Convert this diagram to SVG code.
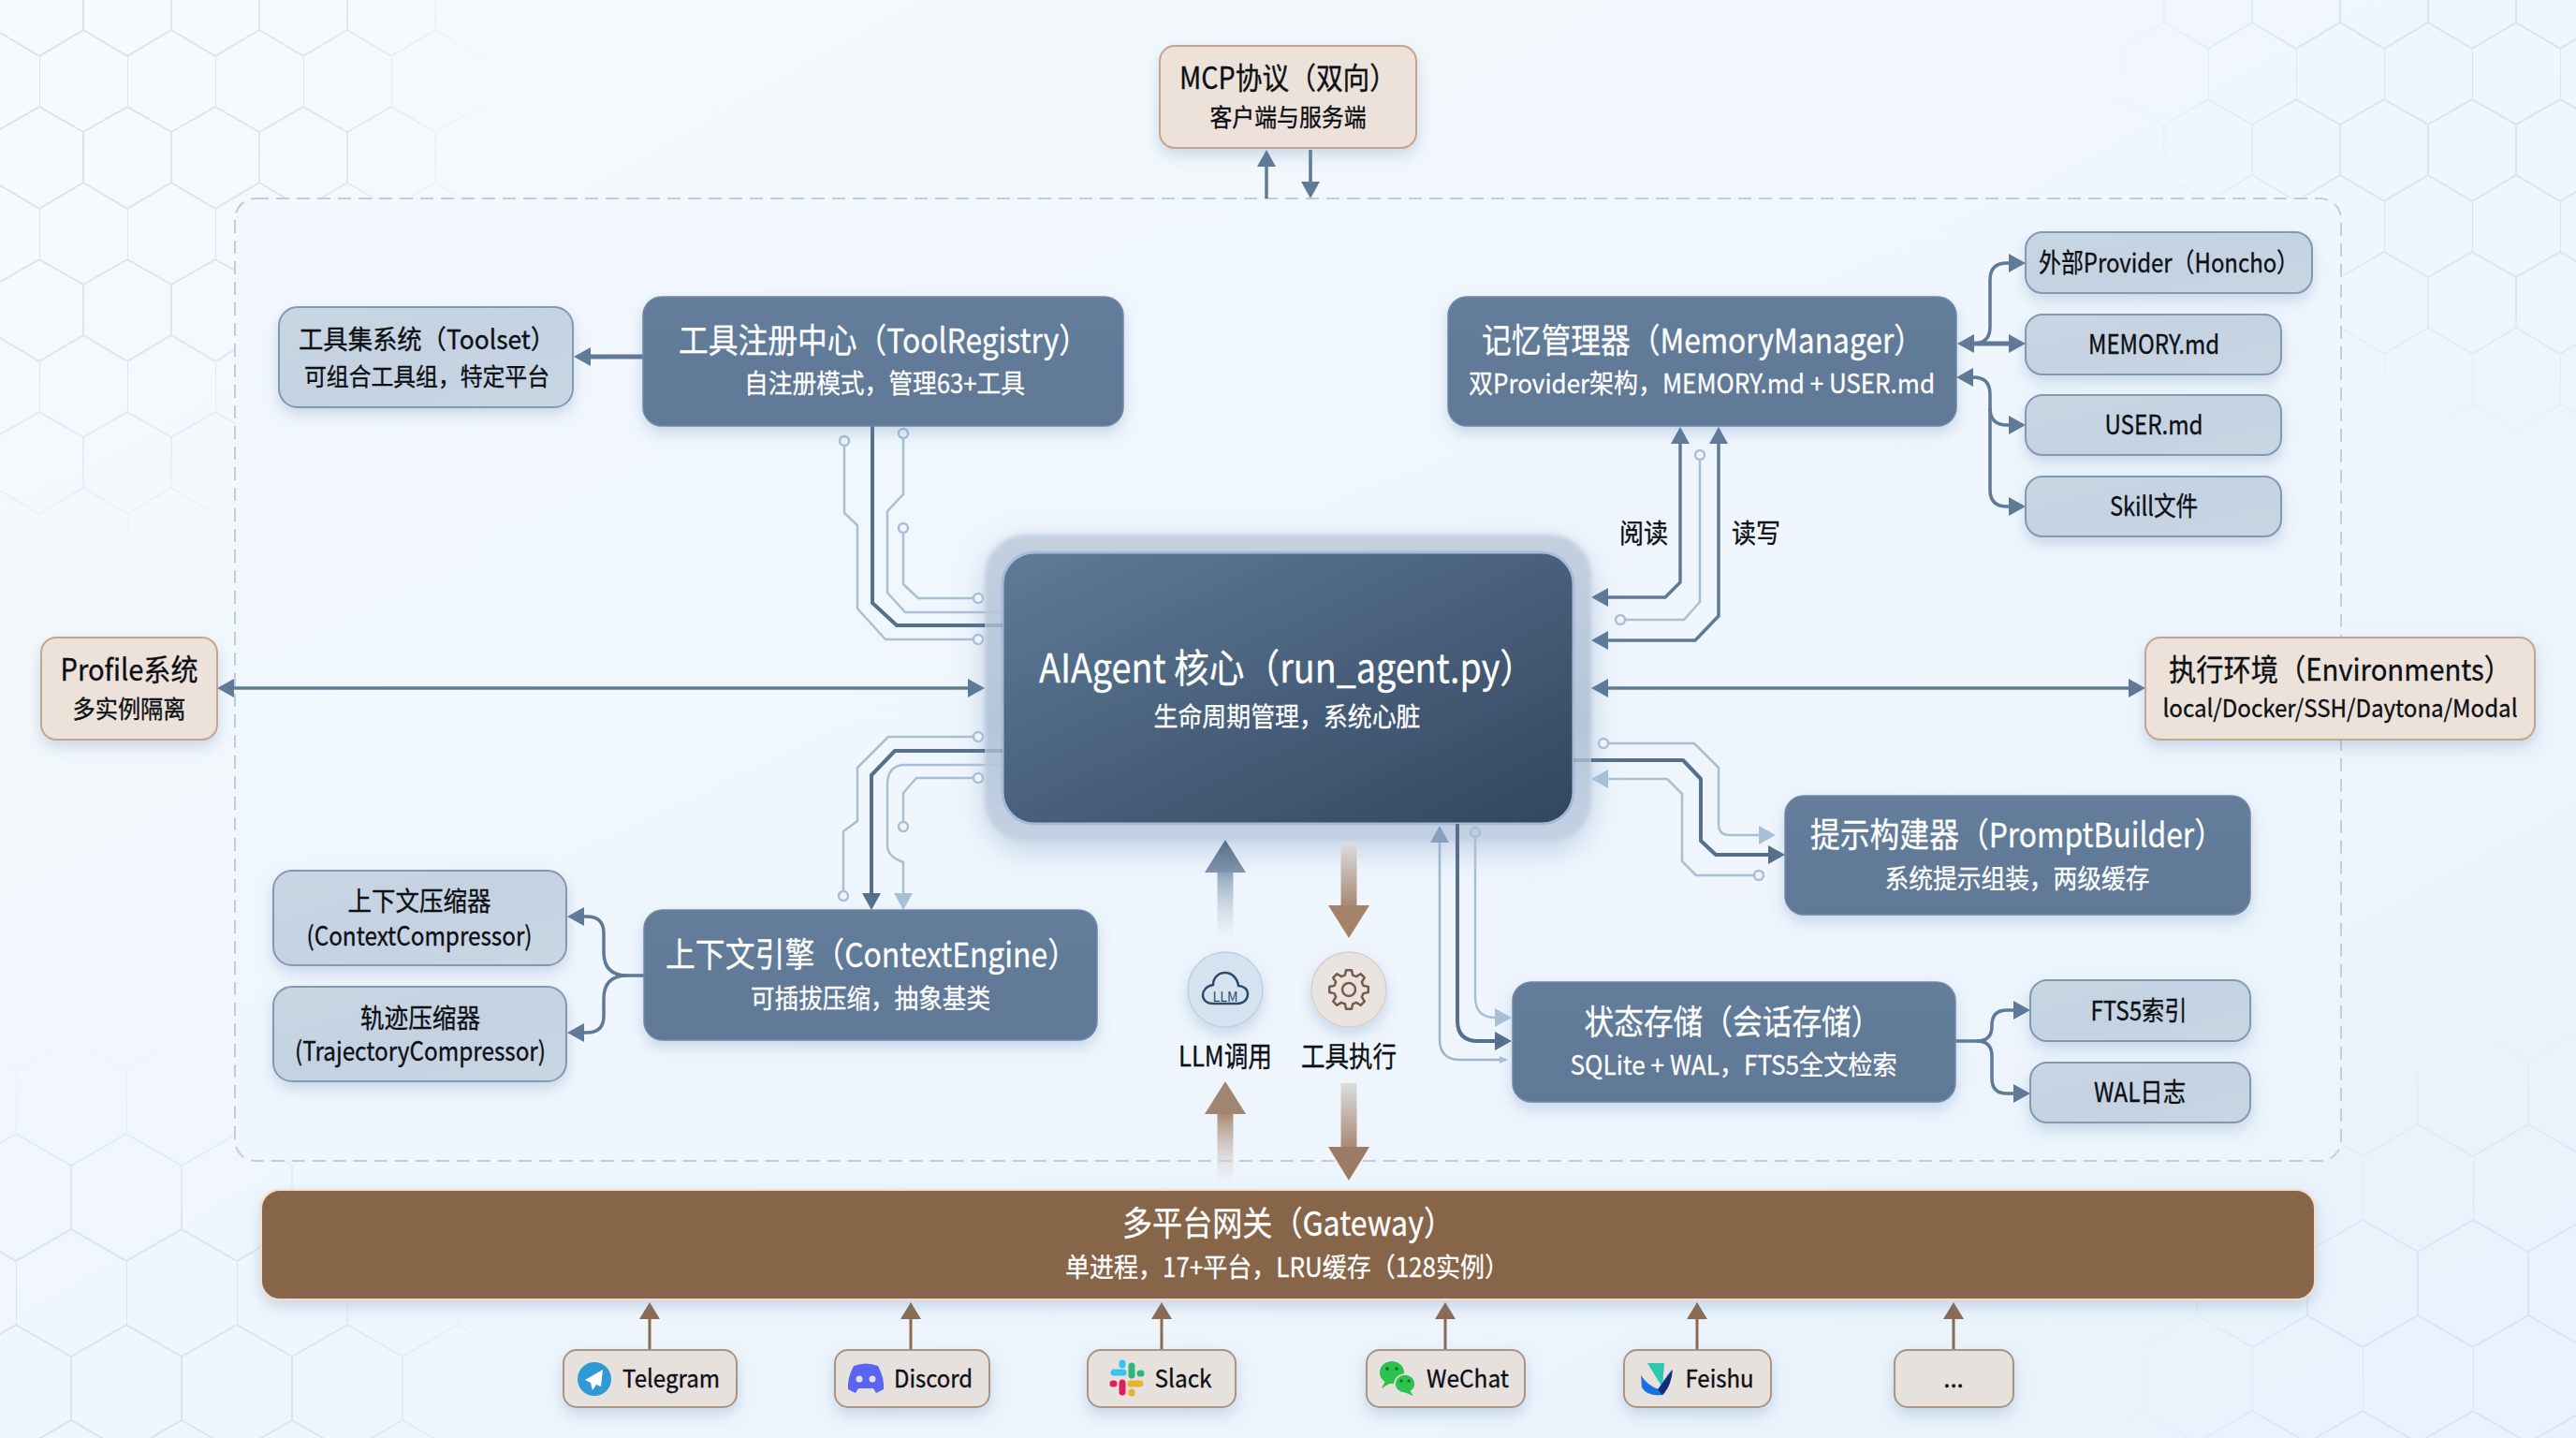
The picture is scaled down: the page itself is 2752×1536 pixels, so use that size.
<svg xmlns="http://www.w3.org/2000/svg" width="2752" height="1536" viewBox="0 0 2752 1536">
<style>
text{font-family:"Noto Sans CJK SC","Noto Sans",sans-serif;text-anchor:middle;dominant-baseline:central}
.w{fill:#fff;stroke:#fff;stroke-width:.3}.k{fill:#0c0f14;stroke:#0c0f14;stroke-width:.35}
.f26{font-size:26px;transform:translateY(-3px)}.f28{font-size:28px;transform:translateY(-2px)}.f30{font-size:30px;transform:translateY(-1px)}.f32{font-size:32px;transform:translateY(-3px)}.f36{font-size:36px;transform:translateY(-3px)}.f42{font-size:42px;transform:translateY(-3px)}
.dark{fill:url(#gDark);stroke:#6f89a6;stroke-width:1.5;filter:url(#sh)}
.light{fill:url(#gLight);stroke:#8299b1;stroke-width:2;filter:url(#sh)}
.beige{fill:#ede2da;stroke:#c4a690;stroke-width:2;filter:url(#sh)}
.plat{fill:#e6e1dc;stroke:#aa9484;stroke-width:2;filter:url(#sh)}
.mid{fill:none;stroke:#5f7a96;stroke-width:3.5;stroke-linejoin:round}
.thick{fill:none;stroke:#5f7a96;stroke-width:5;stroke-linejoin:round}
.drk{fill:none;stroke:#566f8c;stroke-width:4;stroke-linejoin:round}
.lt{fill:none;stroke:#a9bfd6;stroke-width:2.5;stroke-linejoin:round}
.brn{fill:none;stroke:#8a6a50;stroke-width:3}
.term{fill:#eef4fb;stroke:#a9bfd6;stroke-width:2.5}
</style>
<defs>
<linearGradient id="bg" x1="0" y1="0" x2="1" y2="1"><stop offset="0" stop-color="#f7fafd"/><stop offset="1" stop-color="#e8f2fc"/></linearGradient>
<linearGradient id="gCont" x1="0" y1="0" x2="1" y2="1"><stop offset="0" stop-color="#f3f8fe"/><stop offset="1" stop-color="#ecf4fd"/></linearGradient>
<linearGradient id="gDark" x1="0" y1="0" x2="0" y2="1"><stop offset="0" stop-color="#637d9a"/><stop offset=".5" stop-color="#607a98"/><stop offset="1" stop-color="#5f7997"/></linearGradient>
<linearGradient id="gLight" x1="0" y1="0" x2="1" y2="1"><stop offset="0" stop-color="#c9d6e4"/><stop offset=".5" stop-color="#c4d2e1"/><stop offset="1" stop-color="#c9d6e4"/></linearGradient>
<linearGradient id="gCore" x1="0" y1="0" x2="1" y2="1"><stop offset="0" stop-color="#5f7b98"/><stop offset=".5" stop-color="#48607c"/><stop offset="1" stop-color="#33455f"/></linearGradient>
<linearGradient id="gHalo" x1="0" y1="0" x2="0" y2="1"><stop offset="0" stop-color="#c3d0e0"/><stop offset=".6" stop-color="#b5c5d9"/><stop offset="1" stop-color="#c3d1e3"/></linearGradient>
<linearGradient id="aUpB" x1="0" y1="0" x2="0" y2="1"><stop offset="0" stop-color="#8ea3ba"/><stop offset="1" stop-color="#e9f0f8" stop-opacity=".3"/></linearGradient>
<linearGradient id="aHeadB" x1="0" y1="0" x2="0" y2="1"><stop offset="0" stop-color="#566f8c"/><stop offset="1" stop-color="#8094ab"/></linearGradient>
<linearGradient id="aDn" x1="0" y1="0" x2="0" y2="1"><stop offset="0" stop-color="#dcdde1"/><stop offset="1" stop-color="#a98a73"/></linearGradient>
<linearGradient id="aUpN" x1="0" y1="0" x2="0" y2="1"><stop offset="0" stop-color="#a98a73"/><stop offset="1" stop-color="#e9edf3" stop-opacity=".4"/></linearGradient>
<radialGradient id="fade"><stop offset="0" stop-color="#fff"/><stop offset=".6" stop-color="#fff" stop-opacity=".85"/><stop offset="1" stop-color="#fff" stop-opacity="0"/></radialGradient>
<pattern id="hexTL" width="94" height="163" patternUnits="userSpaceOnUse" patternTransform="translate(42 60)"><path d="M0 0V54L47 81V135L0 163M47 135L94 163M94 54L47 81" fill="none" stroke="#d6e3f0" stroke-width="2"/></pattern>
<pattern id="hexTR" width="94" height="163" patternUnits="userSpaceOnUse" patternTransform="translate(2359 52)"><path d="M0 0V54L47 81V135L0 163M47 135L94 163M94 54L47 81" fill="none" stroke="#d6e3f0" stroke-width="2"/></pattern>
<pattern id="hexBL" width="118" height="204" patternUnits="userSpaceOnUse" patternTransform="translate(17 1143)"><path d="M0 0V68L59 102V170L0 204M59 170L118 204M118 68L59 102" fill="none" stroke="#d6e3f0" stroke-width="2"/></pattern>
<pattern id="hexBR" width="118" height="204" patternUnits="userSpaceOnUse" patternTransform="translate(2524 1235)"><path d="M0 0V68L59 102V170L0 204M59 170L118 204M118 68L59 102" fill="none" stroke="#d6e3f0" stroke-width="2"/></pattern>
<mask id="mTL" maskUnits="userSpaceOnUse" x="0" y="0" width="2752" height="1536"><ellipse cx="60" cy="100" rx="480" ry="520" fill="url(#fade)"/></mask>
<mask id="mTR" maskUnits="userSpaceOnUse" x="0" y="0" width="2752" height="1536"><ellipse cx="2752" cy="50" rx="500" ry="440" fill="url(#fade)"/></mask>
<mask id="mBL" maskUnits="userSpaceOnUse" x="0" y="0" width="2752" height="1536"><ellipse cx="60" cy="1520" rx="500" ry="420" fill="url(#fade)"/></mask>
<mask id="mBR" maskUnits="userSpaceOnUse" x="0" y="0" width="2752" height="1536"><ellipse cx="2752" cy="1520" rx="490" ry="430" fill="url(#fade)"/></mask>
<filter id="sh" x="-15%" y="-25%" width="130%" height="160%"><feDropShadow dx="0" dy="7" stdDeviation="8" flood-color="#5f82ad" flood-opacity=".28"/></filter>
<filter id="coreGlow" x="-15%" y="-20%" width="130%" height="145%"><feGaussianBlur stdDeviation="2.500" result="b"/><feDropShadow in="b" dx="0" dy="10" stdDeviation="16" flood-color="#6f8fb8" flood-opacity=".35"/></filter>
<marker id="mM" viewBox="0 0 18 20" markerUnits="userSpaceOnUse" markerWidth="18" markerHeight="20" refX="10" refY="10" orient="auto-start-reverse"><path d="M0 0L18 10L0 20Z" fill="#5f7a96"/></marker>
<marker id="mD" viewBox="0 0 18 20" markerUnits="userSpaceOnUse" markerWidth="18" markerHeight="20" refX="10" refY="10" orient="auto-start-reverse"><path d="M0 0L18 10L0 20Z" fill="#566f8c"/></marker>
<marker id="mL" viewBox="0 0 18 20" markerUnits="userSpaceOnUse" markerWidth="18" markerHeight="20" refX="10" refY="10" orient="auto-start-reverse"><path d="M0 0L18 10L0 20Z" fill="#a9bfd6"/></marker>
<marker id="mL2" viewBox="0 0 18 20" markerUnits="userSpaceOnUse" markerWidth="18" markerHeight="20" refX="10" refY="10" orient="auto-start-reverse"><path d="M0 0L18 10L0 20Z" fill="#86a0bb"/></marker>
<marker id="mS" viewBox="0 0 9 8" markerUnits="userSpaceOnUse" markerWidth="9" markerHeight="8" refX="2" refY="4" orient="auto"><path d="M0 0L9 4L0 8Z" fill="#a9bfd6"/></marker>
<marker id="mB" viewBox="0 0 18 22" markerUnits="userSpaceOnUse" markerWidth="18" markerHeight="22" refX="10" refY="11" orient="auto"><path d="M0 0L18 11L0 22Z" fill="#8a6a50"/></marker>
</defs>
<rect id="background" width="2752" height="1536" fill="url(#bg)"/>
<g id="hexagons">
<rect width="2752" height="1536" fill="url(#hexTL)" mask="url(#mTL)"/>
<rect width="2752" height="1536" fill="url(#hexTR)" mask="url(#mTR)"/>
<rect width="2752" height="1536" fill="url(#hexBL)" mask="url(#mBL)"/>
<rect width="2752" height="1536" fill="url(#hexBR)" mask="url(#mBR)"/>
</g>
<rect id="container" x="251" y="212" width="2250" height="1028" rx="22" fill="url(#gCont)" stroke="#c0cedc" stroke-width="2" stroke-dasharray="14 8"/>

<g id="node-core">
<rect x="1052" y="571" width="648" height="328" rx="44" fill="url(#gHalo)" filter="url(#coreGlow)"/>
<rect x="1071" y="590" width="610" height="290" rx="34" fill="url(#gCore)" stroke="#a5bcd8" stroke-width="3"/>
<text class="w f42" x="1375" y="713" textLength="530" lengthAdjust="spacingAndGlyphs">AIAgent 核心（run_agent.py）</text>
<text class="w f28" x="1375" y="766" textLength="285" lengthAdjust="spacingAndGlyphs">生命周期管理，系统心脏</text>
</g>

<g id="connectors">
<path class="thick" marker-end="url(#mM)" d="M687 381H621"/>
<path class="mid" marker-end="url(#mM)" d="M1353 212V168"/>
<path class="mid" marker-end="url(#mM)" d="M1400 160V204"/>
<path class="mid" marker-start="url(#mM)" marker-end="url(#mM)" d="M240 735H1044"/>
<path class="mid" marker-start="url(#mM)" marker-end="url(#mM)" d="M1708 735H2284"/>
<path class="thick" marker-start="url(#mM)" marker-end="url(#mM)" d="M2099 367H2156"/>
<path class="mid" marker-end="url(#mM)" d="M2108 367Q2126 367 2126 349V299Q2126 281 2144 281H2156"/>
<path class="mid" marker-start="url(#mM)" marker-end="url(#mM)" d="M2098 403H2108Q2126 403 2126 421V436Q2126 454 2144 454H2156"/>
<path class="mid" marker-end="url(#mM)" d="M2126 436V523Q2126 541 2144 541H2156"/>
<path class="mid" marker-start="url(#mM)" marker-end="url(#mM)" d="M1708 638H1779L1795 622V464"/>
<path class="mid" marker-start="url(#mM)" marker-end="url(#mM)" d="M1708 684H1811L1836 658V464"/>
<path class="lt" d="M1816 491V643L1799 662H1736"/><circle class="term" cx="1816" cy="486" r="5"/><circle class="term" cx="1731" cy="662" r="5"/>
<path class="lt" d="M902 476V548L916 561V650L946 683H1040"/><circle class="term" cx="902" cy="471" r="5"/><circle class="term" cx="1045" cy="683" r="5"/>
<path class="drk" d="M932 455V644L958 668H1052"/><path class="drk" opacity=".3" d="M1052 668H1071"/>
<path class="lt" d="M965 468V528L948 546V633L967 654H1052"/><path class="lt" opacity=".4" d="M1052 654H1071"/><circle class="term" cx="965" cy="463" r="5"/>
<path class="lt" d="M965 569V624L981 639H1040"/><circle class="term" cx="965" cy="564" r="5"/><circle class="term" cx="1045" cy="639" r="5"/>
<path class="lt" d="M1040 787H949L916 820V877L901 888V952"/><circle class="term" cx="1045" cy="787" r="5"/><circle class="term" cx="901" cy="957" r="5"/>
<path class="drk" marker-end="url(#mD)" d="M1052 802H956L931 828V964"/><path class="drk" opacity=".3" d="M1052 802H1071"/>
<path class="lt" marker-end="url(#mL)" d="M1052 817H967Q948 817 948 838V903Q948 915 965 921V964"/><path class="lt" opacity=".4" d="M1052 817H1071"/>
<path class="lt" d="M1040 831H979L965 847V878"/><circle class="term" cx="1045" cy="831" r="5"/><circle class="term" cx="965" cy="883" r="5"/>
<path class="mid" marker-end="url(#mM)" d="M688 1042H670Q645 1042 645 1017V997Q645 979 627 979H614"/>
<path class="mid" marker-end="url(#mM)" d="M670 1042Q645 1042 645 1067V1085Q645 1103 627 1103H614"/>
<path class="mid" marker-end="url(#mM)" d="M2089 1112H2112Q2128 1112 2128 1096V1095Q2128 1079 2144 1079H2161"/>
<path class="mid" marker-end="url(#mM)" d="M2112 1112Q2128 1112 2128 1128V1152Q2128 1168 2144 1168H2161"/>
<path class="lt" marker-end="url(#mL)" d="M1718 794H1810L1836 820V880Q1836 892 1848 892H1889"/><circle class="term" cx="1713" cy="794" r="5"/>
<path class="drk" marker-end="url(#mD)" d="M1700 812H1798L1817 832V898L1833 913H1899"/><path class="drk" opacity=".3" d="M1681 812H1700"/>
<path class="lt" marker-start="url(#mL)" d="M1708 832H1781L1797 848V920L1812 935H1874"/><circle class="term" cx="1879" cy="935" r="5"/>
<path class="lt" style="stroke:#9db4cc" marker-start="url(#mL2)" marker-end="url(#mS)" d="M1538 890V1110Q1538 1132 1560 1132H1604"/>
<path class="drk" marker-end="url(#mD)" d="M1557 880V1090Q1557 1112 1579 1112H1607"/>
<path class="lt" marker-end="url(#mL)" d="M1576 894V1065Q1576 1087 1598 1087H1607"/><circle class="term" style="fill:#bccbdd" cx="1576" cy="889" r="5"/>
<rect x="1300.500" y="932" width="17" height="71" fill="url(#aUpB)"/><path d="M1309 897L1331 932H1287Z" fill="url(#aHeadB)"/>
<rect x="1432.500" y="900" width="17" height="67" fill="url(#aDn)"/><path d="M1441 1002L1463 967H1419Z" fill="#a5826a"/>
<rect x="1300.500" y="1190" width="17" height="70" fill="url(#aUpN)"/><path d="M1309 1155L1331 1190H1287Z" fill="#a08570"/>
<rect x="1432.500" y="1157" width="17" height="68" fill="url(#aDn)"/><path d="M1441 1261L1463 1225H1419Z" fill="#9b7b63"/>
<path class="brn" marker-end="url(#mB)" d="M694 1442V1399"/>
<path class="brn" marker-end="url(#mB)" d="M973 1442V1399"/>
<path class="brn" marker-end="url(#mB)" d="M1241 1442V1399"/>
<path class="brn" marker-end="url(#mB)" d="M1544 1442V1399"/>
<path class="brn" marker-end="url(#mB)" d="M1813 1442V1399"/>
<path class="brn" marker-end="url(#mB)" d="M2087 1442V1399"/>
<text class="k f28" x="1756" y="570" textLength="52" lengthAdjust="spacingAndGlyphs">阅读</text>
<text class="k f28" x="1876" y="570" textLength="52" lengthAdjust="spacingAndGlyphs">读写</text>
</g>

<g id="node-mcp"><rect class="beige" x="1239" y="49" width="274" height="109" rx="16"/>
<text class="k f32" x="1376" y="84" textLength="232" lengthAdjust="spacingAndGlyphs">MCP协议（双向）</text>
<text class="k f26" x="1376" y="126" textLength="167" lengthAdjust="spacingAndGlyphs">客户端与服务端</text></g>
<g id="node-toolset"><rect class="light" x="298" y="328" width="314" height="107" rx="20"/>
<text class="k f28" x="456" y="363" textLength="274" lengthAdjust="spacingAndGlyphs">工具集系统（Toolset）</text>
<text class="k f26" x="456" y="403" textLength="262" lengthAdjust="spacingAndGlyphs">可组合工具组，特定平台</text></g>
<g id="node-toolregistry"><rect class="dark" x="687" y="317" width="513" height="138" rx="20"/>
<text class="w f36" x="944" y="364" textLength="438" lengthAdjust="spacingAndGlyphs">工具注册中心（ToolRegistry）</text>
<text class="w f28" x="945" y="410" textLength="300" lengthAdjust="spacingAndGlyphs">自注册模式，管理63+工具</text></g>
<g id="node-memory"><rect class="dark" x="1547" y="317" width="543" height="138" rx="20"/>
<text class="w f36" x="1819" y="364" textLength="472" lengthAdjust="spacingAndGlyphs">记忆管理器（MemoryManager）</text>
<text class="w f28" x="1818" y="410" textLength="498" lengthAdjust="spacingAndGlyphs">双Provider架构，MEMORY.md + USER.md</text></g>
<g id="node-provider"><rect class="light" x="2164" y="248" width="306" height="65" rx="18"/>
<text class="k f28" x="2317" y="281" textLength="278" lengthAdjust="spacingAndGlyphs">外部Provider（Honcho）</text></g>
<g id="node-memory-md"><rect class="light" x="2164" y="336" width="273" height="64" rx="18"/>
<text class="k f28" x="2301" y="368" textLength="140" lengthAdjust="spacingAndGlyphs">MEMORY.md</text></g>
<g id="node-user-md"><rect class="light" x="2164" y="422" width="273" height="64" rx="18"/>
<text class="k f28" x="2301" y="454" textLength="105" lengthAdjust="spacingAndGlyphs">USER.md</text></g>
<g id="node-skill"><rect class="light" x="2164" y="509" width="273" height="64" rx="18"/>
<text class="k f28" x="2301" y="541" textLength="94" lengthAdjust="spacingAndGlyphs">Skill文件</text></g>
<g id="node-profile"><rect class="beige" x="44" y="681" width="188" height="109" rx="16"/>
<text class="k f32" x="138" y="716" textLength="147" lengthAdjust="spacingAndGlyphs">Profile系统</text>
<text class="k f26" x="138" y="758" textLength="121" lengthAdjust="spacingAndGlyphs">多实例隔离</text></g>
<g id="node-env"><rect class="beige" x="2292" y="681" width="416" height="109" rx="16"/>
<text class="k f32" x="2500" y="716" textLength="366" lengthAdjust="spacingAndGlyphs">执行环境（Environments）</text>
<text class="k f26" x="2500" y="757" textLength="379" lengthAdjust="spacingAndGlyphs">local/Docker/SSH/Daytona/Modal</text></g>
<g id="node-contextengine"><rect class="dark" x="688" y="972" width="484" height="139" rx="20"/>
<text class="w f36" x="931" y="1020" textLength="440" lengthAdjust="spacingAndGlyphs">上下文引擎（ContextEngine）</text>
<text class="w f28" x="930" y="1067" textLength="256" lengthAdjust="spacingAndGlyphs">可插拔压缩，抽象基类</text></g>
<g id="node-cc"><rect class="light" x="292" y="930" width="313" height="101" rx="20"/>
<text class="k f28" x="448" y="963" textLength="153" lengthAdjust="spacingAndGlyphs">上下文压缩器</text>
<text class="k f28" x="448" y="1000" textLength="241" lengthAdjust="spacingAndGlyphs">(ContextCompressor)</text></g>
<g id="node-tc"><rect class="light" x="292" y="1054" width="313" height="101" rx="20"/>
<text class="k f28" x="449" y="1088" textLength="128" lengthAdjust="spacingAndGlyphs">轨迹压缩器</text>
<text class="k f28" x="449" y="1123" textLength="268" lengthAdjust="spacingAndGlyphs">(TrajectoryCompressor)</text></g>
<g id="node-promptbuilder"><rect class="dark" x="1907" y="850" width="497" height="127" rx="20"/>
<text class="w f36" x="2155" y="892" textLength="442" lengthAdjust="spacingAndGlyphs">提示构建器（PromptBuilder）</text>
<text class="w f28" x="2155" y="939" textLength="283" lengthAdjust="spacingAndGlyphs">系统提示组装，两级缓存</text></g>
<g id="node-state"><rect class="dark" x="1616" y="1049" width="473" height="128" rx="20"/>
<text class="w f36" x="1851" y="1092" textLength="317" lengthAdjust="spacingAndGlyphs">状态存储（会话存储）</text>
<text class="w f28" x="1852" y="1138" textLength="349" lengthAdjust="spacingAndGlyphs">SQLite + WAL，FTS5全文检索</text></g>
<g id="node-fts5"><rect class="light" x="2169" y="1047" width="235" height="65" rx="18"/>
<text class="k f28" x="2285" y="1080" textLength="103" lengthAdjust="spacingAndGlyphs">FTS5索引</text></g>
<g id="node-wal"><rect class="light" x="2169" y="1135" width="235" height="64" rx="18"/>
<text class="k f28" x="2286" y="1167" textLength="98" lengthAdjust="spacingAndGlyphs">WAL日志</text></g>
<g id="node-llm"><circle cx="1309" cy="1057" r="40" fill="#d5e3f1" stroke="#bdd0e3" stroke-width="1.5" filter="url(#sh)"/>
<path transform="translate(1309 1056)" d="M-13 16H13C20 16 24 11 24 6C24 0 19-3 14-3C13-11 7-17 0-17C-8-17-13-11-13-4C-20-3-24 2-24 7C-24 12-20 16-13 16Z" fill="none" stroke="#2f4b6b" stroke-width="2.500"/>
<text x="1309" y="1063" font-size="15" fill="#2f4b6b" textLength="27" lengthAdjust="spacingAndGlyphs">LLM</text>
<text class="k f30" x="1309" y="1127" textLength="100" lengthAdjust="spacingAndGlyphs">LLM调用</text></g>
<g id="node-toolexec"><circle cx="1441" cy="1057" r="40" fill="#e9e3df" stroke="#d9cfc8" stroke-width="1.5" filter="url(#sh)"/>
<polygon transform="translate(1441 1057)" points="15.450,-4.140 20.800,-2.920 20.800,2.920 15.450,4.140 13.850,8 16.770,12.640 12.640,16.770 8,13.850 4.140,15.450 2.920,20.800 -2.920,20.800 -4.140,15.450 -8,13.850 -12.640,16.770 -16.770,12.640 -13.850,8 -15.450,4.140 -20.800,2.920 -20.800,-2.920 -15.450,-4.140 -13.850,-8 -16.770,-12.640 -12.640,-16.770 -8,-13.850 -4.140,-15.450 -2.920,-20.800 2.920,-20.800 4.140,-15.450 8,-13.850 12.640,-16.770 16.770,-12.640 13.850,-8" fill="none" stroke="#7a5a45" stroke-width="2.500" stroke-linejoin="round"/>
<circle cx="1441" cy="1057" r="7" fill="none" stroke="#7a5a45" stroke-width="2.500"/>
<text class="k f30" x="1441" y="1127" textLength="102" lengthAdjust="spacingAndGlyphs">工具执行</text></g>
<g id="node-gateway"><rect x="279" y="1271" width="2194" height="117" rx="20" fill="#86654a" stroke="#f6dcc6" stroke-width="2" filter="url(#sh)"/>
<text class="w f36" x="1376" y="1307" textLength="354" lengthAdjust="spacingAndGlyphs">多平台网关（Gateway）</text>
<text class="w f28" x="1375" y="1354" textLength="474" lengthAdjust="spacingAndGlyphs">单进程，17+平台，LRU缓存（128实例）</text></g>
<g id="node-telegram"><rect class="plat" x="602" y="1442" width="185" height="61" rx="14"/>
<circle cx="635" cy="1473" r="18" fill="#2e9bd6"/><path d="M644 1463L625 1474L631 1477L633 1485L637 1479L642 1481Z" fill="#fff"/>
<text class="k f26" x="717" y="1473" textLength="104" lengthAdjust="spacingAndGlyphs">Telegram</text></g>
<g id="node-discord"><rect class="plat" x="892" y="1442" width="165" height="61" rx="14"/>
<path d="M912 1459Q925 1454 938 1459Q945 1472 944 1484L936 1488L933 1483H917L914 1488L906 1484Q905 1472 912 1459Z" fill="#5865f2"/><circle cx="918" cy="1473" r="3.500" fill="#e6e1dc"/><circle cx="932" cy="1473" r="3.500" fill="#e6e1dc"/>
<text class="k f26" x="997" y="1473" textLength="84" lengthAdjust="spacingAndGlyphs">Discord</text></g>
<g id="node-slack"><rect class="plat" x="1162" y="1442" width="158" height="61" rx="14"/>
<g fill="none" stroke-width="7" stroke-linecap="round"><path d="M1190 1466H1200" stroke="#36c5f0"/><path d="M1199 1458V1456" stroke="#36c5f0"/><path d="M1209 1459V1469" stroke="#2eb67d"/><path d="M1218 1467H1219" stroke="#2eb67d"/><path d="M1208 1478H1218" stroke="#ecb22e"/><path d="M1209 1487V1488" stroke="#ecb22e"/><path d="M1199 1477V1487" stroke="#e01e5a"/><path d="M1190 1478H1189" stroke="#e01e5a"/></g>
<text class="k f26" x="1264" y="1473" textLength="61" lengthAdjust="spacingAndGlyphs">Slack</text></g>
<g id="node-wechat"><rect class="plat" x="1460" y="1442" width="169" height="61" rx="14"/>
<ellipse cx="1487" cy="1466" rx="13" ry="12" fill="#2dc14e"/><path d="M1480 1475L1476 1483L1486 1477Z" fill="#2dc14e"/><ellipse cx="1501" cy="1478" rx="11" ry="10" stroke="#e6e1dc" stroke-width="1.500" fill="#2dc14e"/><path d="M1506 1485L1510 1491L1500 1487Z" fill="#2dc14e"/><circle cx="1482" cy="1462" r="1.800" fill="#0e6b2a"/><circle cx="1492" cy="1462" r="1.800" fill="#0e6b2a"/><circle cx="1497" cy="1475" r="1.500" fill="#0e6b2a"/><circle cx="1505" cy="1475" r="1.500" fill="#0e6b2a"/>
<text class="k f26" x="1568" y="1473" textLength="88" lengthAdjust="spacingAndGlyphs">WeChat</text></g>
<g id="node-feishu"><rect class="plat" x="1735" y="1442" width="157" height="61" rx="14"/>
<path d="M1760 1456H1778L1776 1482Z" fill="#2dc8ae"/><path d="M1753 1469Q1760 1480 1772 1484Q1776 1476 1786 1463Q1784 1480 1776 1490Q1760 1492 1754 1482Z" fill="#1a6fe0"/><path d="M1771 1484Q1777 1476 1787 1463Q1785 1482 1776 1490Z" fill="#0e2f78"/>
<text class="k f26" x="1837" y="1473" textLength="73" lengthAdjust="spacingAndGlyphs">Feishu</text></g>
<g id="node-more"><rect class="plat" x="2024" y="1442" width="127" height="61" rx="14"/>
<text class="k f26" x="2087" y="1473">...</text></g>
</svg>
